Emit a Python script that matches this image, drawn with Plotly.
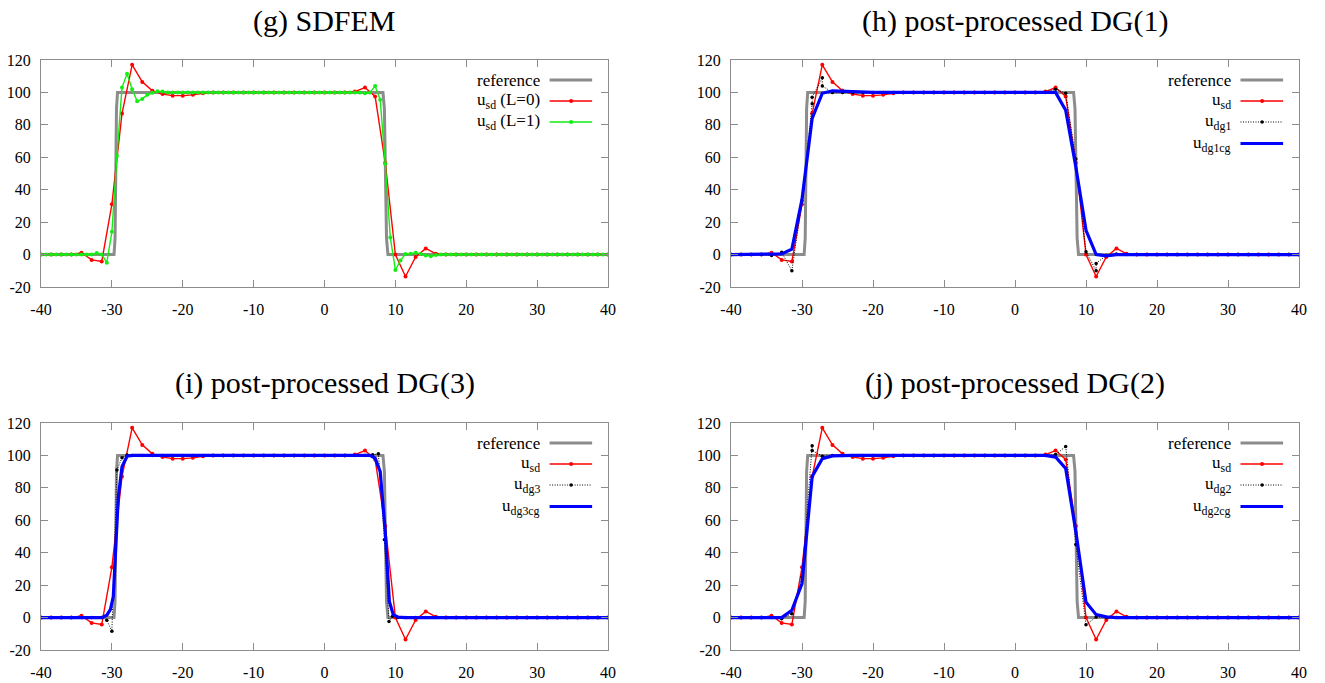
import numpy as np
import plotly.graph_objects as go

FONT = "Liberation Serif"

# ---------------- data ----------------
# meshes (SD mesh h = 10/7, L=1 mesh h = 5/7)
X_SD = np.linspace(-40, 40, 57)
X_SD_L1 = np.linspace(-40, 40, 113)

REF_X = [-40, -29.7, -29.55, -29.45, -29.35, -29.2, 8.25, 8.45, 8.6, 8.75, 8.95, 40]
REF_Y = [0, 0, 10, 50, 90, 100, 100, 90, 50, 10, 0, 0]

U_SD = [0, 0, 0, 0, 1.2, -3.3, -4.3, 31, 87, 117, 106.5, 101, 99, 98, 98, 98.5, 99.5,
        100, 100, 100, 100, 100, 100, 100, 100, 100, 100, 100, 100, 100, 100,
        100.5, 103, 97.5, 56.5, 0, -13.5, -1.5, 3.8, 0.5,
        0, 0, 0, 0, 0, 0, 0, 0, 0, 0, 0, 0, 0, 0, 0, 0, 0]

U_SD_L1 = ([0, 0, 0, 0, 0, 0, 0, 0, 0, 0, 0,
            1, 0, -5, 14, 61, 103, 111.5, 102, 94.5, 96, 98.5, 99.8, 100.7, 100.5] +
           [100] * 39 +
           [99.5, 100, 104, 95.5, 56, 10.5, -9.5, -3.7, 0.4, 0.5, 1.2, 0.4, -0.6, -1, -0.3] +
           [0] * 34)

LOW, HIGH = 0, 100

# transition zones (x, u); flats are LOW / HIGH on the SD mesh
DG1_LEFT = [(-34.29, -0.5), (-32.86, 1.4), (-31.43, -10), (-30.0, 33), (-28.57, 93), (-28.57, 97),
            (-27.14, 109), (-27.14, 104), (-25.71, 100)]
DG1_RIGHT = [(5.71, 102), (7.14, 99.5), (8.57, 59), (10.0, 1.8), (11.43, -10), (11.43, -5.5),
             (12.86, -0.5), (14.29, 0.3)]
DG1CG_LEFT = [(-32.86, 0.4), (-31.43, 3.3), (-30.0, 34), (-28.57, 84), (-27.14, 99.5),
              (-25.71, 101), (-24.29, 100.7), (-22.86, 100.3)]
DG1CG_RIGHT = [(7.14, 89), (8.57, 54), (10.0, 15), (11.43, 0), (12.86, -0.8)]

DG3_LEFT = [(-31.43, 0), (-30.71, -1.6), (-30.0, -8.5), (-29.29, 91), (-28.57, 98.6), (-27.86, 100.3)]
DG3_RIGHT = [(6.8, 100.4), (7.6, 101), (8.45, 48), (9.1, -2.4), (9.6, 0.8), (10.3, 0)]
DG3CG_LEFT = [(-31.43, 0), (-30.71, 1.5), (-30.2, 5), (-29.8, 13), (-29.1, 74), (-28.57, 93),
              (-27.86, 99.5), (-27.14, 100)]
DG3CG_RIGHT = [(6.43, 100), (7.14, 98.3), (7.86, 90), (8.57, 53), (9.15, 10), (9.7, 1.8),
               (10.4, 0.3), (11.43, 0)]

DG2_LEFT = [(-32.86, -0.8), (-31.43, 2.3), (-30.0, 25), (-28.57, 106), (-28.57, 103), (-27.14, 99.5)]
DG2_RIGHT = [(5.71, 100.5), (7.14, 105.5), (8.57, 45), (10.0, -4.5), (11.43, 0.4), (12.86, 0)]
DG2CG_LEFT = [(-32.86, 0), (-31.43, 4.5), (-30.0, 21), (-28.57, 87), (-27.14, 98), (-25.71, 99.7)]
DG2CG_RIGHT = [(5.71, 99), (7.14, 92), (8.57, 53), (10.0, 9.5), (11.43, 1.8), (12.86, 0.4)]

X_TICKS = [-40, -30, -20, -10, 0, 10, 20, 30, 40]
X_TICK_LABELS = ["-40", "-30", "-20", "-10", "0", "10", "20", "30", "40"]
Y_TICKS = [-20, 0, 20, 40, 60, 80, 100, 120]
Y_TICK_LABELS = ["-20", "0", "20", "40", "60", "80", "100", "120"]

TITLES = ["(g) SDFEM", "(h) post-processed DG(1)", "(i) post-processed DG(3)", "(j) post-processed DG(2)"]


def compose(left, right, mesh=X_SD, tol=0.1):
    xs, ys = [], []
    for x in mesh:
        if x < left[0][0] - tol:
            xs.append(x); ys.append(LOW)
    for x, y in left:
        xs.append(x); ys.append(y)
    for x in mesh:
        if left[-1][0] + tol < x < right[0][0] - tol:
            xs.append(x); ys.append(HIGH)
    for x, y in right:
        xs.append(x); ys.append(y)
    for x in mesh:
        if x > right[-1][0] + tol:
            xs.append(x); ys.append(LOW)
    return xs, ys


# ---------------- styles ----------------
GRAY = "#8c8c8c"
RED = "#ff0000"
GREEN = "#11ee11"
BLUE = "#0000ff"
BLACK = "#000000"

ref_style = dict(mode="lines", line=dict(color=GRAY, width=3))
red_style = dict(mode="lines+markers", line=dict(color=RED, width=1.4), marker=dict(color=RED, size=4))
green_style = dict(mode="lines+markers", line=dict(color=GREEN, width=1.4), marker=dict(color=GREEN, size=4))
black_style = dict(mode="lines+markers", line=dict(color=BLACK, width=1, dash="1px,1.5px"),
                   marker=dict(color=BLACK, size=3.5))
blue_style = dict(mode="lines", line=dict(color=BLUE, width=3.2))

fig = go.Figure()

panels = [
    ("x", "y", [(REF_X, REF_Y, ref_style), (X_SD, U_SD, red_style), (X_SD_L1, U_SD_L1, green_style)]),
    ("x2", "y2", [(REF_X, REF_Y, ref_style), (X_SD, U_SD, red_style),
                  (*compose(DG1_LEFT, DG1_RIGHT), black_style), (*compose(DG1CG_LEFT, DG1CG_RIGHT), blue_style)]),
    ("x3", "y3", [(REF_X, REF_Y, ref_style), (X_SD, U_SD, red_style),
                  (*compose(DG3_LEFT, DG3_RIGHT), black_style), (*compose(DG3CG_LEFT, DG3CG_RIGHT), blue_style)]),
    ("x4", "y4", [(REF_X, REF_Y, ref_style), (X_SD, U_SD, red_style),
                  (*compose(DG2_LEFT, DG2_RIGHT), black_style), (*compose(DG2CG_LEFT, DG2CG_RIGHT), blue_style)]),
]

for xa, ya, series in panels:
    for xs, ys, st in series:
        fig.add_trace(go.Scatter(x=list(xs), y=list(ys), xaxis=xa, yaxis=ya, showlegend=False,
                                 hoverinfo="skip", **st))

W, H = 1325, 683
XD = [[41 / W, 608 / W], [731 / W, 1299 / W]]
YD = [[(H - 287) / H, (H - 60) / H], [(H - 650) / H, (H - 423) / H]]
dom = [(XD[0], YD[0]), (XD[1], YD[0]), (XD[0], YD[1]), (XD[1], YD[1])]

axis_common = dict(showline=True, linecolor=GRAY, linewidth=1, mirror="ticks", ticks="inside",
                   ticklen=7, tickcolor=GRAY, showgrid=False, zeroline=False, automargin=False,
                   tickfont=dict(family=FONT, size=16, color="black"))

layout = dict(template="none", width=W, height=H, margin=dict(l=0, r=0, t=0, b=0, pad=0),
              plot_bgcolor="white", paper_bgcolor="white", showlegend=False, hovermode=False,
              font=dict(family=FONT, size=16, color="black"))
for i, (xd, yd) in enumerate(dom):
    n = "" if i == 0 else str(i + 1)
    layout["xaxis" + n] = dict(domain=xd, range=[-40, 40], tickvals=X_TICKS, ticktext=X_TICK_LABELS,
                               anchor="y" + n, ticklabelstandoff=8, **axis_common)
    layout["yaxis" + n] = dict(domain=yd, range=[-20, 120], tickvals=Y_TICKS, ticktext=Y_TICK_LABELS,
                               anchor="x" + n, ticklabelstandoff=6, **axis_common)
fig.update_layout(**layout)

# titles
title_y = [1 - 21 / H, 1 - 21 / H, 1 - 383 / H, 1 - 383 / H]
annotations = []
shapes = []
for i, (xd, yd) in enumerate(dom):
    annotations.append(dict(text=TITLES[i], x=(xd[0] + xd[1]) / 2, y=title_y[i], xref="paper", yref="paper",
                            xanchor="center", yanchor="middle", showarrow=False,
                            font=dict(family=FONT, size=30, color="black")))

# key (gnuplot style: text right-justified, sample to the right)
keys = [
    [("reference", ref_style, False), ("u<sub>sd</sub> (L=0)", red_style, True), ("u<sub>sd</sub> (L=1)", green_style, True)],
    [("reference", ref_style, False), ("u<sub>sd</sub>", red_style, True), ("u<sub>dg1</sub>", black_style, True), ("u<sub>dg1cg</sub>", blue_style, False)],
    [("reference", ref_style, False), ("u<sub>sd</sub>", red_style, True), ("u<sub>dg3</sub>", black_style, True), ("u<sub>dg3cg</sub>", blue_style, False)],
    [("reference", ref_style, False), ("u<sub>sd</sub>", red_style, True), ("u<sub>dg2</sub>", black_style, True), ("u<sub>dg2cg</sub>", blue_style, False)],
]
rows_px = [20, 41, 62, 83.5]
for i, entries in enumerate(keys):
    n = "" if i == 0 else str(i + 1)
    xr, yr = "x" + n + " domain", "y" + n + " domain"
    for r, (label, st, has_marker) in enumerate(entries):
        yy = 1 - rows_px[r] / 227
        annotations.append(dict(text=label, x=0.883, y=yy, xref=xr, yref=yr, xanchor="right",
                                yanchor="middle", showarrow=False,
                                font=dict(family=FONT, size=17, color="black")))
        ln = st["line"]
        shapes.append(dict(type="line", xref=xr, yref=yr, x0=0.897, x1=0.972, y0=yy, y1=yy,
                           line=dict(color=ln["color"], width=ln["width"], dash=ln.get("dash", "solid"))))
        if has_marker:
            s = st["marker"]["size"] / 2
            shapes.append(dict(type="circle", xref=xr, yref=yr, xsizemode="pixel", ysizemode="pixel",
                               xanchor=0.935, yanchor=yy, x0=-s, x1=s, y0=-s, y1=s,
                               fillcolor=st["marker"]["color"], line=dict(width=0)))

fig.update_layout(annotations=annotations, shapes=shapes)
# remove the default 8px page margin so the figure sits at the window origin; no mode bar
fig.write_html("out.html", config={"displayModeBar": False, "staticPlot": True},
               post_script="document.body.style.margin='0px';")
